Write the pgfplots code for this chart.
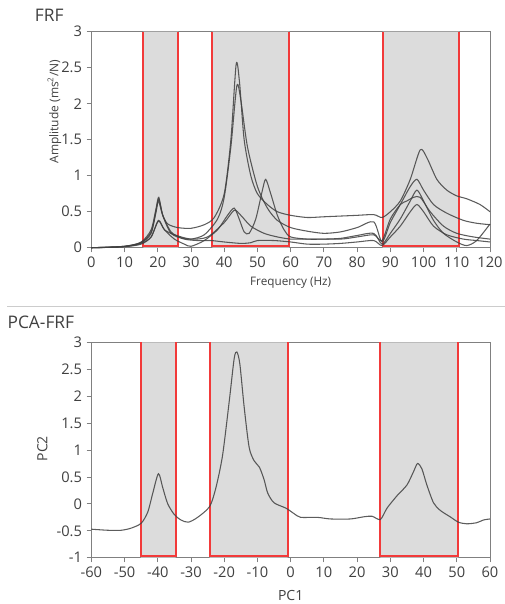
\documentclass[border=0pt]{standalone}
\usepackage{pgfplots}
\pgfplotsset{compat=1.18}
\usepackage{fontspec}
\setmainfont{Open Sans}
\definecolor{shade}{HTML}{DCDCDC}
\definecolor{frame}{HTML}{808080}
\definecolor{txt}{HTML}{404040}
\definecolor{redbox}{HTML}{F23A3A}
\definecolor{curve}{HTML}{404040}

\pgfplotsset{
  panel/.style={
    scale only axis,
    width=299pt,
    xmin=-60, xmax=60,
    axis line style={frame, line width=0.7pt},
    tick pos=left,
    tick align=outside,
    major tick length=3.5pt,
    tick style={frame, line width=0.6pt},
    tick label style={font=\fontsize{11}{13}\selectfont, text=txt},
    /pgf/number format/assume math mode=true,
    clip=false,
  },
  zone/.style={fill=shade, draw=none},
  edge/.style={draw=redbox, line width=1.5pt},
  frf/.style={curve, line width=0.8pt, opacity=0.85, smooth, tension=0.45},
}

\begin{document}
\begin{tikzpicture}
\useasboundingbox (0,0) rectangle (378.75pt,-453pt);

\node[anchor=west, font=\fontsize{13}{15}\selectfont, text=txt, inner sep=0pt] at (26pt,-11.8pt) {FRF};
\node[anchor=west, font=\fontsize{13}{15}\selectfont, text=txt, inner sep=0pt] at (5.5pt,-241.5pt) {PCA-FRF};
\draw[black!20, line width=0.7pt] (5.5pt,-229.5pt) -- (378.75pt,-229.5pt);

% ---------- FRF ----------
\begin{axis}[
  panel,
  at={(68.5pt,-23.8pt)}, anchor=north west,
  height=162pt,
  xmin=0, xmax=120, ymin=0, ymax=3,
  xtick={0,10,...,120},
  ytick={0,0.5,1,1.5,2,2.5,3},
  xlabel={Frequency (Hz)},
  ylabel={Amplitude (ms\textsuperscript{2}/N)},
  xlabel style={font=\fontsize{8.8}{10}\selectfont, text=txt, at={(axis description cs:0.5,-0.162)}, anchor=center},
  ylabel style={font=\fontsize{9}{10}\selectfont, text=txt, at={(axis description cs:-0.0925,0.63)}, anchor=center},
]
\addplot[zone] coordinates {(15.7,0) (15.7,3) (26.2,3) (26.2,0) (15.7,0)};
\addplot[zone] coordinates {(36.4,0) (36.4,3) (59.6,3) (59.6,0) (36.4,0)};
\addplot[zone] coordinates {(87.7,0) (87.7,3) (110.8,3) (110.8,0) (87.7,0)};

\addplot[edge] coordinates {(15.7,3) (15.7,0.02) (26.2,0.02) (26.2,3)};
\addplot[edge] coordinates {(36.4,3) (36.4,0.02) (59.6,0.02) (59.6,3)};
\addplot[edge] coordinates {(87.7,3) (87.7,0.02) (110.8,0.02) (110.8,3)};

\addplot[frf] coordinates {
  (0,0) (5,0.005) (10,0.02) (15,0.07) (18,0.2) (19.5,0.52) (20.3,0.68) (21.5,0.45)
  (23,0.33) (26,0.28) (30,0.27) (34,0.32) (37,0.42) (40,0.75) (42,1.5) (43.6,2.55)
  (44.6,2.3) (46,1.5) (48,1.0) (50,0.75) (53,0.6) (56,0.5) (60,0.45) (65,0.42)
  (70,0.43) (75,0.44) (80,0.45) (85,0.46) (87.5,0.42) (90,0.5) (93,0.65) (96,0.95)
  (99,1.36) (101,1.25) (104,0.95) (107,0.8) (110,0.72) (113,0.68) (117,0.6) (120,0.5)
};
\addplot[frf] coordinates {
  (0,0) (10,0.02) (15,0.07) (18,0.22) (19.5,0.5) (20.2,0.65) (21.5,0.45) (24,0.22)
  (27,0.14) (30,0.12) (34,0.18) (38,0.4) (40,0.7) (42,1.4) (43.8,2.25) (45,2.05)
  (47,1.4) (50,0.85) (53,0.55) (56,0.38) (60,0.28) (65,0.23) (70,0.2) (75,0.22)
  (80,0.28) (85,0.36) (87.5,0.08) (90,0.35) (93,0.6) (96,0.85) (98,0.95) (100,0.8)
  (103,0.6) (107,0.48) (112,0.38) (116,0.34) (120,0.32)
};
\addplot[frf] coordinates {
  (0,0) (10,0.015) (15,0.05) (18,0.15) (20.2,0.38) (22,0.25) (25,0.12) (28,0.05)
  (30,0.02) (34,0.1) (38,0.25) (41,0.45) (43,0.55) (44.5,0.4) (46,0.22) (47.5,0.2)
  (49.5,0.4) (51.5,0.8) (52.5,0.95) (54,0.75) (56,0.45) (58,0.25) (60,0.15) (65,0.12)
  (70,0.12) (75,0.13) (80,0.17) (85,0.2) (87.5,0.05) (90,0.2) (93,0.4) (96,0.65)
  (98,0.8) (100,0.65) (103,0.38) (106,0.2) (110,0.08) (113,0.03) (116,0.1) (120,0.33)
};
\addplot[frf] coordinates {
  (0,0) (10,0.015) (15,0.06) (18,0.15) (20.2,0.37) (22,0.25) (25,0.18) (30,0.12)
  (35,0.15) (40,0.35) (43,0.52) (45,0.45) (48,0.3) (52,0.2) (56,0.15) (60,0.12)
  (65,0.12) (75,0.12) (80,0.15) (85,0.18) (87.5,0.1) (90,0.4) (93,0.6) (95,0.65)
  (97,0.7) (99,0.7) (102,0.5) (106,0.3) (110,0.2) (115,0.15) (120,0.12)
};
\addplot[frf] coordinates {
  (0,0) (10,0.02) (15,0.08) (18,0.25) (19.5,0.55) (20.3,0.7) (21.5,0.45) (24,0.2)
  (28,0.12) (32,0.1) (36,0.1) (40,0.08) (45,0.06) (48,0.07) (50,0.1) (55,0.1)
  (60,0.08) (65,0.05) (70,0.05) (75,0.06) (80,0.08) (85,0.1) (87.5,0.03) (90,0.15)
  (93,0.3) (96,0.5) (98,0.6) (100,0.5) (103,0.3) (107,0.18) (112,0.12) (116,0.1) (120,0.08)
};
\end{axis}

% ---------- PCA-FRF ----------
\begin{axis}[
  panel,
  at={(68.5pt,-256.7pt)}, anchor=north west,
  height=161.6pt,
  ymin=-1, ymax=3,
  xtick={-60,-50,...,60},
  ytick={-1,-0.5,0,0.5,1,1.5,2,2.5,3},
  xlabel={PC1},
  ylabel={PC2},
  xlabel style={font=\fontsize{10.5}{12}\selectfont, text=txt, at={(axis description cs:0.5,-0.173)}, anchor=center},
  ylabel style={font=\fontsize{10.5}{12}\selectfont, text=txt, at={(axis description cs:-0.123,0.506)}, anchor=center},
]
\addplot[zone] coordinates {(-45.1,-1) (-45.1,3) (-34.6,3) (-34.6,-1) (-45.1,-1)};
\addplot[zone] coordinates {(-24.4,-1) (-24.4,3) (-0.9,3) (-0.9,-1) (-24.4,-1)};
\addplot[zone] coordinates {(27.0,-1) (27.0,3) (50.5,3) (50.5,-1) (27.0,-1)};

\addplot[edge] coordinates {(-45.1,3) (-45.1,-0.975) (-34.6,-0.975) (-34.6,3)};
\addplot[edge] coordinates {(-24.4,3) (-24.4,-0.975) (-0.9,-0.975) (-0.9,3)};
\addplot[edge] coordinates {(27.0,3) (27.0,-0.975) (50.5,-0.975) (50.5,3)};

\addplot[frf] coordinates {
  (-60,-0.47) (-55,-0.49) (-51,-0.49) (-48,-0.45) (-45,-0.36) (-43,-0.15) (-41.5,0.2)
  (-39.8,0.56) (-38.5,0.3) (-37,0.0) (-35,-0.2) (-33,-0.3) (-30.8,-0.34) (-28,-0.25)
  (-24.4,-0.05) (-22.5,0.3) (-20.5,0.9) (-18.5,1.9) (-17,2.7) (-16.2,2.82) (-15.3,2.6)
  (-14,1.8) (-12.5,1.05) (-11,0.8) (-9.4,0.68) (-8,0.45) (-6.9,0.2) (-5,0.02)
  (-1.4,-0.08) (1,-0.18) (3,-0.25) (8,-0.25) (12,-0.28) (18,-0.28) (22,-0.24)
  (24.5,-0.23) (27,-0.29) (29,-0.08) (32,0.15) (35,0.35) (37,0.6) (38.2,0.75)
  (39.5,0.65) (41,0.35) (43,0.02) (45,-0.12) (48,-0.24) (50.5,-0.34) (53,-0.37)
  (56,-0.35) (58,-0.3) (60,-0.28)
};
\end{axis}
\end{tikzpicture}
\end{document}
